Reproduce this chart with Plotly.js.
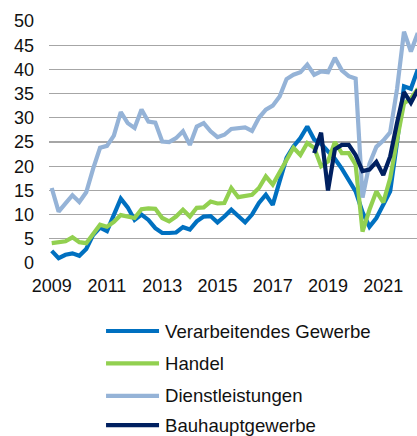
<!DOCTYPE html>
<html>
<head>
<meta charset="utf-8">
<script src="https://cdn.plot.ly/plotly-3.0.1.min.js"></script>
<style>
  html, body { margin: 0; padding: 0; background: #fff; }
  #chart { width: 417px; height: 436px; }
</style>
</head>
<body>
<div id="chart"></div>
<script>
// Quartale 2009 Q1 bis 2022 Q2
const quartale = [];
for (let j = 2009; j <= 2022; j++) {
  for (let q = 0; q < 4; q++) {
    if (j === 2022 && q > 1) break;
    quartale.push(j + q * 0.25);
  }
}

const jahre = [2009, 2011, 2013, 2015, 2017, 2019, 2021];

// Werte je Sektor
const verarbeitendes = [
  2.5, 1.0, 1.7, 2.0,   1.5, 2.9, 5.8, 7.3,   6.6, 10.0, 13.3, 11.5,
  8.9, 10.0, 8.9, 7.2,  6.2, 6.2, 6.3, 7.4,   6.9, 8.6, 9.6, 9.7,
  8.4, 9.6, 11.0, 9.7,  8.4, 10.0, 12.4, 14.1, 12.0, 16.9, 21.7, 24.1,
  25.8, 28.2, 25.5, 24.6, 23.0, 21.5, 19.5, 17.0, 14.8, 10.5, 7.5, 9.3,
  12.3, 14.8, 25.0, 36.5, 36.0, 40.0
];
const handel = [
  4.1, 4.2, 4.5, 5.3,   4.3, 4.1, 5.9, 7.9,   7.5, 8.5, 9.9, 9.6,
  9.3, 11.1, 11.3, 11.2, 9.3, 8.6, 9.6, 11.0, 9.6, 11.4, 11.5, 12.7,
  12.3, 12.4, 15.5, 13.6, 13.8, 14.1, 15.5, 17.9, 16.2, 18.6, 21.3, 23.8,
  22.3, 24.8, 23.8, 20.0, 21.0, 25.0, 22.7, 22.7, 20.3, 6.5, 11.0, 14.8,
  12.5, 17.5, 25.5, 33.0, 34.0, 36.0
];
const dienstleistungen = [
  15.5, 10.6, 12.3, 14.0, 12.6, 14.6, 19.5, 23.8, 24.2, 26.3, 31.2, 28.9,
  27.9, 31.7, 29.2, 29.0, 25.1, 25.0, 25.8, 27.2, 24.4, 28.2, 28.9, 27.2,
  26.0, 26.5, 27.7, 27.9, 28.0, 27.3, 30.0, 31.7, 32.5, 34.4, 38.0, 38.9,
  39.4, 41.0, 38.9, 39.6, 39.4, 42.4, 39.8, 38.6, 38.1, 13.5, 20.5, 24.0,
  25.3, 27.0, 36.0, 47.8, 43.7, 47.5
];
// Bauhauptgewerbe erst ab 2018 Q3
const bauhaupt = [
  22.7, 26.9, 15.0, 23.5, 24.4, 24.4, 22.3, 19.0, 19.3, 20.9,
  18.2, 22.0, 29.0, 35.3, 33.1, 35.8
];

const namen = ["Verarbeitendes Gewerbe", "Handel", "Dienstleistungen", "Bauhauptgewerbe"];
const farben = ["#0070c0", "#92d050", "#95b3d7", "#002060"];
const werte = [verarbeitendes, handel, dienstleistungen, bauhaupt];

const traces = werte.map((w, i) => ({
  x: quartale.slice(quartale.length - w.length),
  y: w,
  type: "scatter",
  mode: "lines",
  name: namen[i],
  line: { color: farben[i], width: 4.2 },
  showlegend: false
}));

// Legende von Hand, damit die Linien so lang wie im Original sind
const zeilen = [-0.281, -0.415, -0.549, -0.670];
const shapes = namen.map((n, i) => ({
  type: "line", xref: "paper", yref: "paper",
  x0: 0.155, x1: 0.299, y0: zeilen[i], y1: zeilen[i],
  line: { color: farben[i], width: 4.2 }
}));
const annotations = namen.map((n, i) => ({
  text: n, xref: "paper", yref: "paper",
  x: 0.31, y: zeilen[i], xanchor: "left", yanchor: "middle",
  showarrow: false,
  font: { family: "Liberation Sans, Arial, sans-serif", size: 18.6, color: "#111" }
}));

const layout = {
  width: 417, height: 436,
  margin: { l: 49, r: 0, t: 21, b: 173 },
  paper_bgcolor: "#fff", plot_bgcolor: "#fff",
  font: { family: "Liberation Sans, Arial, sans-serif", size: 18, color: "#111" },
  xaxis: {
    range: [2008.902, 2022.221],
    tickvals: jahre,
    ticktext: jahre.map(String),
    showgrid: false, zeroline: false, showline: false,
    ticks: "", ticklabelstandoff: 10
  },
  yaxis: {
    range: [0, 50], dtick: 5,
    gridcolor: "#a6a6a6", gridwidth: 1.3,
    zeroline: false, showline: false,
    ticks: "", ticklabelstandoff: 14
  },
  shapes: shapes,
  annotations: annotations
};

Plotly.newPlot("chart", traces, layout, { displayModeBar: false, staticPlot: true });
</script>
</body>
</html>
